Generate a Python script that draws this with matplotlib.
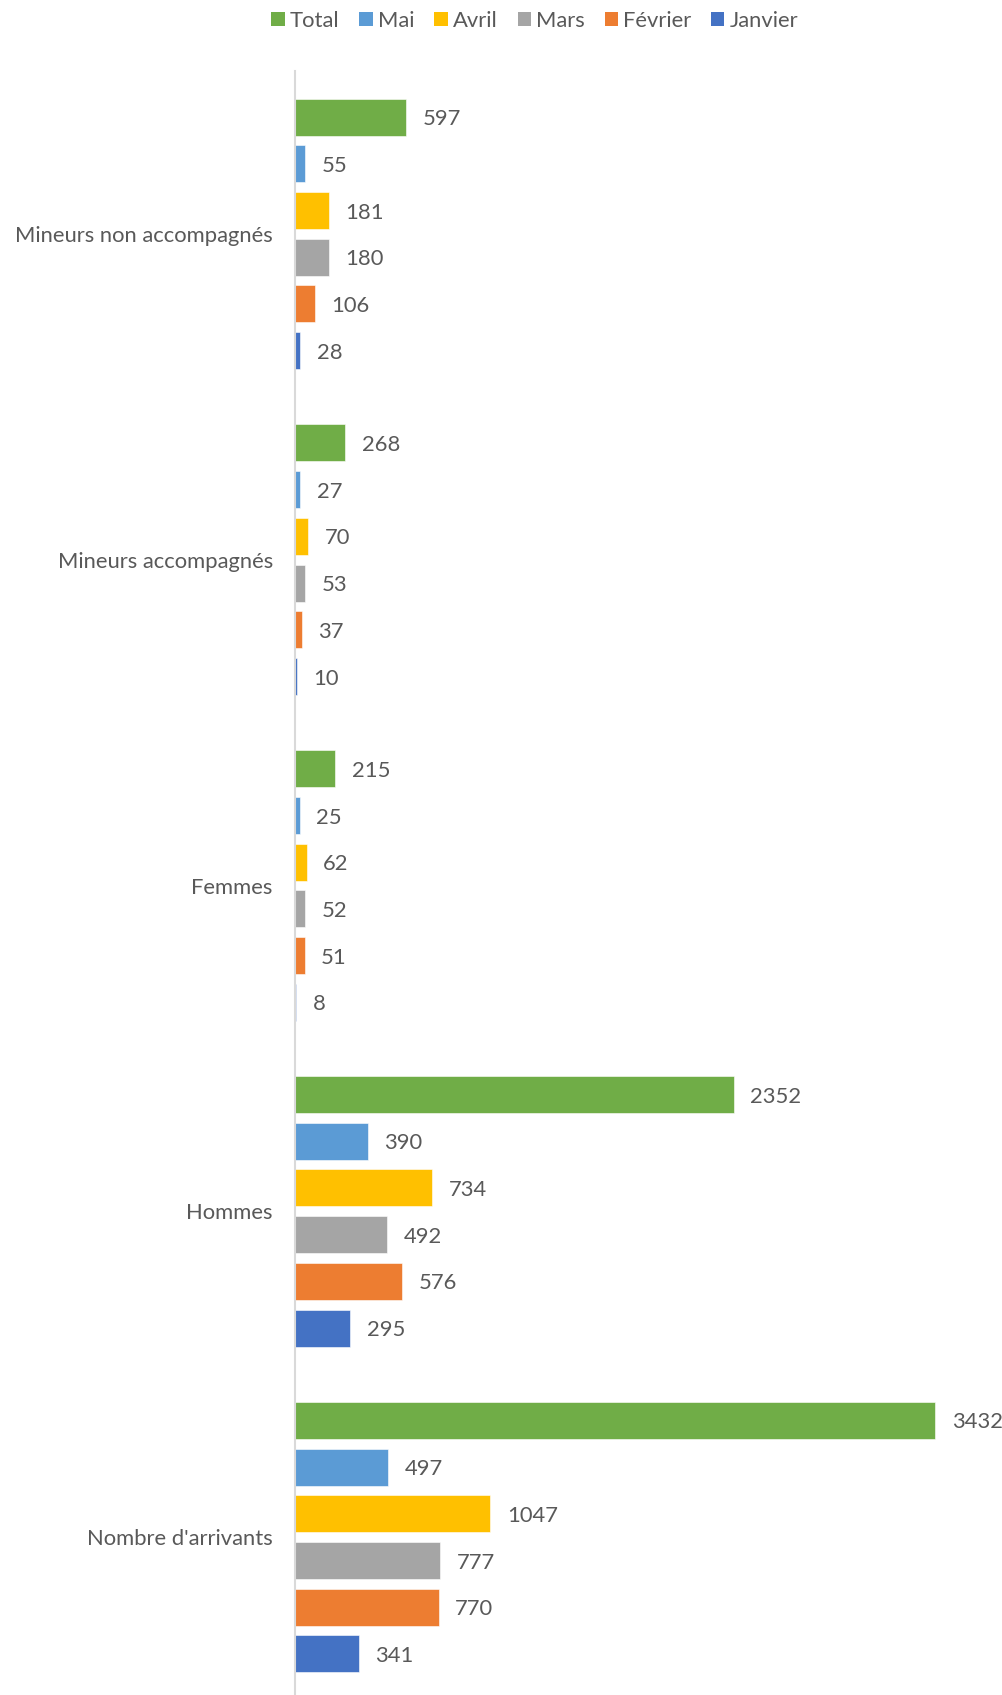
import numpy as np
import matplotlib.pyplot as plt
from matplotlib.patches import Patch

plt.rcParams['font.family'] = ['Lato', 'DejaVu Sans']

# categories from bottom to top
categories = ["Nombre d'arrivants", "Hommes", "Femmes",
              "Mineurs accompagnés", "Mineurs non accompagnés"]
janvier = [341, 295, 8, 10, 28]
fevrier = [770, 576, 51, 37, 106]
mars = [777, 492, 52, 53, 180]
avril = [1047, 734, 62, 70, 181]
mai = [497, 390, 25, 27, 55]
total = [3432, 2352, 215, 268, 597]

series = [("Janvier", janvier, "#4472C4"),
          ("Février", fevrier, "#ED7D31"),
          ("Mars", mars, "#A5A5A5"),
          ("Avril", avril, "#FFC000"),
          ("Mai", mai, "#5B9BD5"),
          ("Total", total, "#70AD47")]

text_color = "#595959"
fs = 15.8

fig = plt.figure(figsize=(10.02, 16.95), dpi=100)
ax = fig.add_axes([295 / 1002, -5 / 1695, 1 - 295 / 1002, 1629 / 1695])

y = np.arange(len(categories))
slot = 0.1433
bar_h = 0.1136

for i, (name, vals, color) in enumerate(series):
    pos = y + (i - 2.5) * slot
    bars = ax.barh(pos, vals, height=bar_h, color=color,
                   edgecolor="white", linewidth=0.4, label=name)
    for b, v in zip(bars, vals):
        ax.annotate(str(v), (b.get_width(), b.get_y() + b.get_height() / 2),
                    xytext=(12, -1.5), textcoords="offset points",
                    va="center", ha="left", fontsize=fs, color=text_color)

ax.set_xlim(0, 707 / (640 / 3432))
ax.set_ylim(-0.5, len(categories) - 0.5)
ax.set_yticks(y)
ax.set_yticklabels(categories, fontsize=fs, color=text_color)
ax.tick_params(axis="y", length=0, pad=16)
ax.set_xticks([])

for s in ["top", "right", "bottom"]:
    ax.spines[s].set_visible(False)
ax.spines["left"].set_color("#D9D9D9")
ax.spines["left"].set_linewidth(1.5)

# legend, Total first
handles = [Patch(facecolor=c, label=n) for n, _, c in reversed(series)]
fig.legend(handles=handles, loc="center", bbox_to_anchor=(535 / 1002, 1 - 21 / 1695),
           ncol=6, frameon=False, fontsize=fs, labelcolor=text_color,
           handlelength=0.6, handleheight=0.6, handletextpad=0.25,
           columnspacing=0.9)

plt.savefig("out.png", dpi=100)
